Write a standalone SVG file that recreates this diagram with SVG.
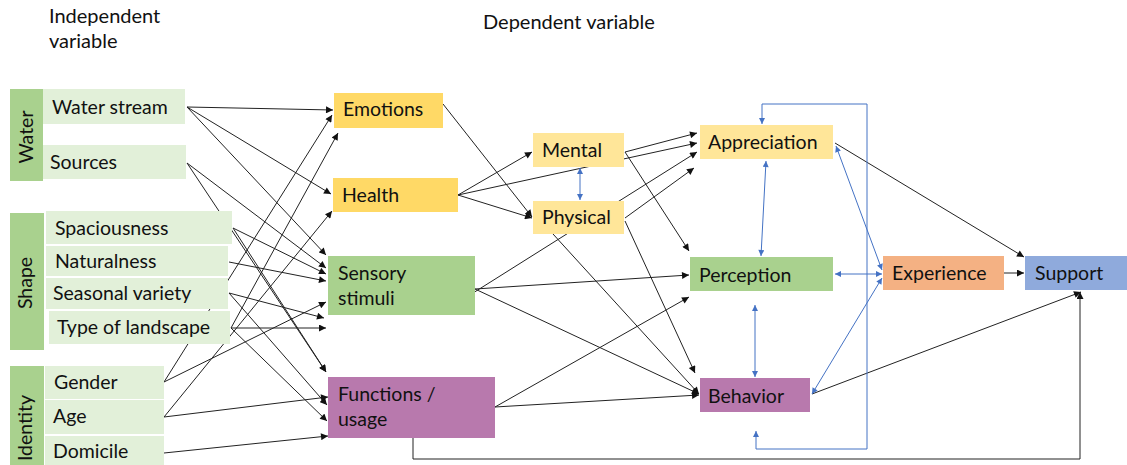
<svg xmlns="http://www.w3.org/2000/svg" width="1127" height="465" viewBox="0 0 1127 465">
<style>
text{font-family:Lato,"Liberation Sans",sans-serif;font-size:19.5px;fill:#111}
.hd{font-size:20px}
.dg{fill:#a9d18e}
.lg{fill:#e2f0d9}
.yl{fill:#ffd966}
.ly{fill:#ffe699}
.pu{fill:#b879ad}
.or{fill:#f4b183}
.bl{fill:#8faadc}
.k{stroke:#222;stroke-width:1;fill:none;marker-end:url(#ak)}
.b{stroke:#4472c4;stroke-width:1;fill:none;marker-end:url(#ab);marker-start:url(#ab)}
</style>
<defs>
<marker id="ak" viewBox="0 0 10 10" refX="10" refY="5" markerWidth="8" markerHeight="7" markerUnits="userSpaceOnUse" orient="auto"><path d="M0,0 L10,5 L0,10 z" fill="#111"/></marker>
<marker id="ab" viewBox="0 0 10 10" refX="10" refY="5" markerWidth="7" markerHeight="6" markerUnits="userSpaceOnUse" orient="auto-start-reverse"><path d="M0,0 L10,5 L0,10 z" fill="#4472c4"/></marker>
</defs>
<rect width="1127" height="465" fill="#fff"/>

<g id="headers">
<text class="hd" x="49" y="23">Independent</text>
<text class="hd" x="49" y="48">variable</text>
<text class="hd" x="483" y="29">Dependent variable</text>
</g>

<g id="connectors">
<line class="k" x1="187" y1="107" x2="333" y2="110"/>
<line class="k" x1="187" y1="107" x2="331" y2="194"/>
<line class="k" x1="187" y1="107" x2="326" y2="255"/>
<line class="k" x1="187" y1="163" x2="326" y2="268"/>
<line class="k" x1="187" y1="163" x2="326" y2="372"/>
<line class="k" x1="233" y1="228" x2="326" y2="274"/>
<line class="k" x1="233" y1="228" x2="326" y2="372"/>
<line class="k" x1="229" y1="262" x2="326" y2="281"/>
<line class="k" x1="229" y1="293" x2="324" y2="318"/>
<line class="k" x1="229" y1="293" x2="327" y2="405"/>
<line class="k" x1="231" y1="328" x2="326" y2="328"/>
<line class="k" x1="231" y1="328" x2="338" y2="133"/>
<line class="k" x1="231" y1="328" x2="327" y2="421"/>
<line class="k" x1="164" y1="382" x2="332" y2="115"/>
<line class="k" x1="164" y1="382" x2="326" y2="302"/>
<line class="k" x1="164" y1="417" x2="332" y2="211"/>
<line class="k" x1="164" y1="417" x2="328" y2="397"/>
<line class="k" x1="164" y1="453" x2="328" y2="436"/>

<line class="k" x1="443" y1="104" x2="532" y2="217"/>
<line class="k" x1="458" y1="195" x2="532" y2="152"/>
<line class="k" x1="458" y1="195" x2="532" y2="218"/>
<line class="k" x1="458" y1="195" x2="697" y2="143"/>
<line class="k" x1="625" y1="152" x2="697" y2="133"/>
<line class="k" x1="625" y1="152" x2="689" y2="251"/>
<line class="k" x1="625" y1="218" x2="694" y2="168"/>
<line class="k" x1="625" y1="221" x2="695" y2="373"/>
<line class="k" x1="553" y1="234" x2="699" y2="394"/>
<line class="k" x1="473" y1="293" x2="697" y2="152"/>
<line class="k" x1="475" y1="289" x2="689" y2="275"/>
<line class="k" x1="475" y1="289" x2="699" y2="394"/>
<line class="k" x1="495" y1="407" x2="689" y2="297"/>
<line class="k" x1="495" y1="407" x2="699" y2="395"/>
<line class="k" x1="835" y1="143" x2="1024" y2="257"/>
<line class="k" x1="812" y1="394" x2="1081" y2="292"/>
<line class="k" x1="1004" y1="273" x2="1024" y2="273"/>
<path class="k" d="M413,438 V459 H1080 V292"/>

<line class="b" x1="580" y1="168" x2="580" y2="200"/>
<line class="b" x1="766" y1="161" x2="761" y2="256"/>
<line class="b" x1="755" y1="305" x2="755" y2="377"/>
<line class="b" x1="835" y1="274" x2="882" y2="274"/>
<line class="b" x1="836" y1="146" x2="882" y2="270"/>
<line class="b" x1="812" y1="394" x2="882" y2="278"/>
<path class="b" d="M756,431 V449 H867 V104 H762 V124"/>
</g>

<g id="water">
<rect class="dg" x="10" y="89" width="33" height="92"/>
<text transform="translate(33,137) rotate(-90)" text-anchor="middle">Water</text>
</g>
<g id="water-stream"><rect class="lg" x="43" y="89" width="142" height="35"/><text x="52" y="114">Water stream</text></g>
<g id="sources"><rect class="lg" x="43" y="145" width="143" height="34"/><text x="50" y="169">Sources</text></g>

<g id="shape">
<rect class="dg" x="10" y="213" width="34" height="137"/>
<text transform="translate(32,283) rotate(-90)" text-anchor="middle">Shape</text>
</g>
<g id="spaciousness"><rect class="lg" x="46" y="211" width="186" height="33"/><text x="55" y="235">Spaciousness</text></g>
<g id="naturalness"><rect class="lg" x="46" y="246" width="182" height="30"/><text x="55" y="268">Naturalness</text></g>
<g id="seasonal-variety"><rect class="lg" x="46" y="278" width="182" height="31"/><text x="53" y="300">Seasonal variety</text></g>
<g id="type-of-landscape"><rect class="lg" x="49" y="311" width="181" height="33"/><text x="57" y="334">Type of landscape</text></g>

<g id="identity">
<rect class="dg" x="10" y="366" width="34" height="99"/>
<text transform="translate(32,428) rotate(-90)" text-anchor="middle">Identity</text>
</g>
<g id="gender"><rect class="lg" x="45" y="366" width="119" height="33"/><text x="54" y="389">Gender</text></g>
<g id="age"><rect class="lg" x="45" y="400" width="119" height="34"/><text x="53" y="423">Age</text></g>
<g id="domicile"><rect class="lg" x="45" y="436" width="119" height="29"/><text x="53" y="458">Domicile</text></g>

<g id="emotions"><rect class="yl" x="334" y="93" width="109" height="35"/><text x="343" y="116">Emotions</text></g>
<g id="health"><rect class="yl" x="333" y="178" width="125" height="34"/><text x="342" y="202">Health</text></g>
<g id="sensory-stimuli"><rect class="dg" x="328" y="256" width="147" height="59"/><text x="338" y="280">Sensory</text><text x="338" y="305">stimuli</text></g>
<g id="functions-usage"><rect class="pu" x="328" y="377" width="167" height="61"/><text x="338" y="401">Functions /</text><text x="338" y="426">usage</text></g>

<g id="mental"><rect class="ly" x="533" y="133" width="91" height="34"/><text x="542" y="157">Mental</text></g>
<g id="physical"><rect class="ly" x="533" y="201" width="91" height="33"/><text x="542" y="224">Physical</text></g>

<g id="appreciation"><rect class="ly" x="700" y="125" width="133" height="34"/><text x="708" y="149">Appreciation</text></g>
<g id="perception"><rect class="dg" x="690" y="257" width="143" height="34"/><text x="699" y="282">Perception</text></g>
<g id="behavior"><rect class="pu" x="700" y="378" width="110" height="34"/><text x="708" y="403">Behavior</text></g>
<g id="experience"><rect class="or" x="883" y="256" width="121" height="34"/><text x="892" y="280">Experience</text></g>
<g id="support"><rect class="bl" x="1025" y="256" width="102" height="34"/><text x="1035" y="280">Support</text></g>
</svg>
